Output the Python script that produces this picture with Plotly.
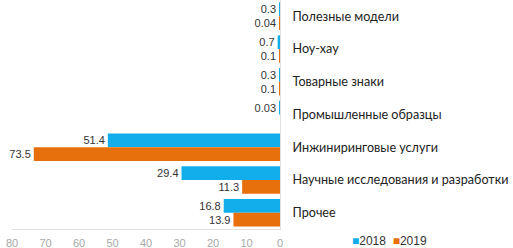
import plotly.graph_objects as go

categories = ["Полезные модели", "Ноу-хау", "Товарные знаки", "Промышленные образцы",
              "Инжиниринговые услуги", "Научные исследования и разработки", "Прочее"]
v2018 = [0.3, 0.7, 0.3, 0.03, 51.4, 29.4, 16.8]
v2019 = [0.04, 0.1, 0.1, None, 73.5, 11.3, 13.9]
x_ticks = [80, 70, 60, 50, 40, 30, 20, 10, 0]
series_names = ["2018", "2019"]
colors = ["#12AEEB", "#E8700C"]

def fmt(vals):
    return ["" if v is None else f"{v:g}" for v in vals]

fig = go.Figure()
for name, vals, col in zip(series_names, [v2018, v2019], colors):
    fig.add_trace(go.Bar(name=name, y=categories, x=vals, orientation="h",
                         marker=dict(color=col, line=dict(width=0)),
                         text=fmt(vals), textposition="outside", cliponaxis=False,
                         textfont=dict(family="Liberation Sans", size=11, color="#333333")))

legend_text = "".join(
    f"<span style='color:{c}'>■</span>{n}" + ("  " if i == 0 else "")
    for i, (n, c) in enumerate(zip(series_names, colors)))

fig.update_layout(
    width=513, height=248,
    margin=dict(l=12, r=233, t=0, b=19),
    barmode="group", bargap=0.16, bargroupgap=0,
    plot_bgcolor="white", paper_bgcolor="white",
    showlegend=False,
    annotations=[dict(text=legend_text, xref="paper", yref="paper", x=1.26, y=-0.012,
                      xanchor="left", yanchor="top", showarrow=False,
                      font=dict(family="Liberation Sans", size=12, color="#333333"))],
)
fig.update_xaxes(range=[80, 0], tickvals=x_ticks, ticktext=[str(t) for t in x_ticks],
                 showgrid=False, zeroline=False, showline=True, linecolor="#E0E0E0", linewidth=1,
                 ticks="", ticklabelstandoff=4, automargin=False,
                 tickfont=dict(family="Liberation Sans", size=11, color="#A8A8A8"))
fig.update_yaxes(autorange="reversed", side="right", showgrid=False, zeroline=False,
                 showline=True, linecolor="#E0E0E0", linewidth=1, ticks="", ticklabelstandoff=9,
                 automargin=False,
                 tickfont=dict(family="Lato", size=12.6, color="#222222"))

fig.write_html("out.html", config={"displayModeBar": False},
               post_script="document.body.style.margin='0px';")
